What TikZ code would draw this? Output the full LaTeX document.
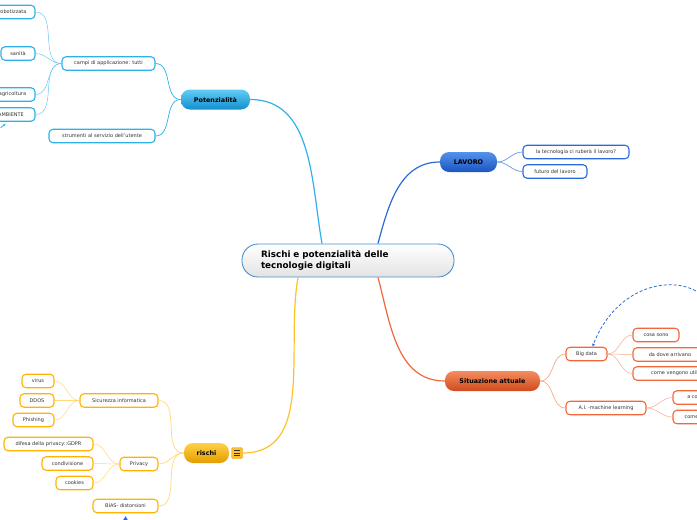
\documentclass[tikz,border=0pt]{standalone}
\usepackage{fontspec}
\setmainfont{DejaVu Sans}
\usetikzlibrary{arrows.meta,positioning}
\definecolor{rootedge}{HTML}{4A90D0}
\definecolor{potline}{HTML}{2EB0E8}
\definecolor{pottop}{HTML}{62CBF5}
\definecolor{potbot}{HTML}{1390CF}
\definecolor{lavline}{HTML}{2A6AD8}
\definecolor{lavtop}{HTML}{5592EA}
\definecolor{lavbot}{HTML}{1B55C0}
\definecolor{sitline}{HTML}{F2673A}
\definecolor{sittop}{HTML}{F58D60}
\definecolor{sitbot}{HTML}{CF4A1D}
\definecolor{sittwig}{HTML}{F7A88C}
\definecolor{risline}{HTML}{FFC02A}
\definecolor{ristop}{HTML}{FFD145}
\definecolor{risbot}{HTML}{E39D00}
\definecolor{risedge}{HTML}{FFB300}
\definecolor{ristwig}{HTML}{FFD878}
\definecolor{leaftext}{HTML}{333333}
\tikzset{
  root/.style   = {draw=rootedge, line width=0.9pt, rounded corners=16pt, top color=white, bottom color=gray!22,
                   minimum width=212pt, minimum height=33pt, text width=174pt, align=left, inner xsep=19pt,
                   font=\bfseries\fontsize{8.8}{11}\selectfont},
  topic/.style  = {rounded corners=9pt, minimum height=20pt, inner sep=0pt, font=\bfseries\fontsize{6.4}{7.5}\selectfont},
  leaf/.style   = {draw, fill=white, line width=1.1pt, rounded corners=4pt, minimum height=13.5pt, inner sep=0pt,
                   text=leaftext, font=\fontsize{5}{6}\selectfont},
  potleaf/.style = {leaf, draw=potline},
  lavleaf/.style = {leaf, draw=lavline},
  sitleaf/.style = {leaf, draw=sitline},
  risleaf/.style = {leaf, draw=risedge},
  trunk/.style  = {line width=1.2pt},
  limb/.style   = {line width=0.7pt},
  twig/.style   = {line width=0.5pt},
  relation/.style = {densely dashed, line width=0.8pt, lavline, -{Latex[length=3pt,width=3pt]}}
}

\begin{document}
\begin{tikzpicture}[x=1pt, y=-1pt]
    \useasboundingbox (0,0) rectangle (697,520);
    \clip (0,0) rectangle (697,520);
    % Central topic
    \node[root] (root) at (348,260.5) {Rischi e potenzialità delle\\tecnologie digitali};
    % Main branches
    \node[topic, top color=pottop, bottom color=potbot, minimum width=69pt] (pot) at (215.5,99.5) {Potenzialità};
    \node[topic, top color=lavtop, bottom color=lavbot, minimum width=57pt] (lavoro) at (468.5,162) {LAVORO};
    \node[topic, top color=sittop, bottom color=sitbot, minimum width=95pt] (sit) at (492.5,381) {Situazione attuale};
    \node[topic, top color=ristop, bottom color=risbot, minimum width=45pt] (rischi) at (206.5,453) {rischi};
    \node[draw=risbot, fill=risline, rounded corners=1.5pt, minimum size=11pt, inner sep=0pt] (menu) at (237,453) {};
    \foreach \dy in {-2.5,0,2.5}
      \draw[line width=0.8pt, black!80] ([shift={(-3pt,\dy pt)}]menu.center) -- ++(6,0);
    % Potenzialita
    \node[potleaf, minimum width=93pt] (campi) at (108.5,63.5) {campi di applicazione: tutti};
    \node[potleaf, minimum width=106pt] (strumenti) at (102,136) {strumenti al servizio dell'utente};
    \node[potleaf, minimum width=45pt] (robot) at (12.5,12) {robotizzata};
    \node[potleaf, minimum width=34pt] (sanita) at (18,53.5) {sanità};
    \node[potleaf, minimum width=45pt] (agri) at (12.5,94.5) {agricoltura};
    \node[potleaf, minimum width=48pt] (ambiente) at (11,114.5) {AMBIENTE};
    \draw[potline, line width=0.8pt, -{Latex[length=2pt,width=2.5pt]}]
      ([shift={(-35pt,-6pt)}]ambiente.south east) -- ++(5,-4);
    % Lavoro
    \node[lavleaf, minimum width=106pt] (ruba) at (576,152) {la tecnologia ci ruberà il lavoro?};
    \node[lavleaf, minimum width=64pt] (futuro) at (555,171.5) {futuro del lavoro};
    % Situazione attuale
    \node[sitleaf, minimum width=41pt] (bigdata) at (586.5,354) {Big data};
    \node[sitleaf, minimum width=46pt] (cosa) at (656,335) {cosa sono};
    \node[sitleaf, minimum width=74pt] (dove) at (670,354.5) {da dove arrivano};
    \node[sitleaf, minimum width=96pt] (come) at (681,373.5) {come vengono utilizzati};
    \node[sitleaf, minimum width=80pt] (ai) at (606,408) {A.I. -machine learning};
    \node[sitleaf, minimum width=60pt] (acosa) at (703,397.5) {a cosa serve};
    \node[sitleaf, minimum width=60pt] (comefa) at (703,417) {come funziona};
    \coordinate (relsrc) at (716,318);
    \draw[relation] (relsrc) .. controls (706,270) and (622,270) .. ([xshift=6pt]bigdata.north);
    % Rischi
    \node[risleaf, minimum width=78pt] (sicurezza) at (119,400.5) {Sicurezza informatica};
    \node[risleaf, minimum width=32pt] (virus) at (38,381) {virus};
    \node[risleaf, minimum width=34pt] (ddos) at (37,400.5) {DDOS};
    \node[risleaf, minimum width=41pt] (phishing) at (33.5,420) {Phishing};
    \node[risleaf, minimum width=38pt] (privacy) at (139,464) {Privacy};
    \node[risleaf, minimum width=89pt] (gdpr) at (48.5,444) {difesa della privacy::GDPR};
    \node[risleaf, minimum width=51pt] (condiv) at (67.5,463.5) {condivisione};
    \node[risleaf, minimum width=37pt] (cookies) at (74.5,483) {cookies};
    \node[risleaf, minimum width=65pt] (bias) at (125.5,506) {BIAS- distorsioni};
    \fill[lavline] ([yshift=-2pt]bias.south) ++(-2.5,5) -- ++(5,0) -- ++(-2.5,-4) -- cycle;
    % Trunks
    \draw[trunk, potline] (pot.east) to[out=0, in=100] ([xshift=-26pt]root.north);
    \draw[trunk, lavline] ([xshift=30pt]root.north) to[out=75, in=180] (lavoro.west);
    \draw[trunk, sitline] ([xshift=30pt]root.south) to[out=-75, in=180] (sit.west);
    \draw[trunk, risline] ([xshift=-50pt]root.south) to[out=-100, in=0] (menu.east);
    % Limbs
    \foreach \n in {campi,strumenti}
      \draw[limb, potline] (pot.west) to[out=180, in=0] (\n.east);
    \foreach \n in {robot,sanita,agri,ambiente}
      \draw[twig, potline!70] (campi.west) to[out=180, in=0] (\n.east);
    \foreach \n in {ruba,futuro}
      \draw[limb, lavline!70] (lavoro.east) to[out=0, in=180] (\n.west);
    \foreach \n in {bigdata,ai}
      \draw[limb, sittwig] (sit.east) to[out=0, in=180] (\n.west);
    \foreach \n in {cosa,dove,come}
      \draw[twig, sittwig] (bigdata.east) to[out=0, in=180] (\n.west);
    \foreach \n in {acosa,comefa}
      \draw[twig, sittwig] (ai.east) to[out=0, in=180] (\n.west);
    \foreach \n in {sicurezza,privacy,bias}
      \draw[limb, ristwig] (rischi.west) to[out=180, in=0] (\n.east);
    \foreach \n in {virus,ddos,phishing}
      \draw[twig, ristwig] (sicurezza.west) to[out=180, in=0] (\n.east);
    \foreach \n in {gdpr,condiv,cookies}
      \draw[twig, ristwig] (privacy.west) to[out=180, in=0] (\n.east);
\end{tikzpicture}
\end{document}
